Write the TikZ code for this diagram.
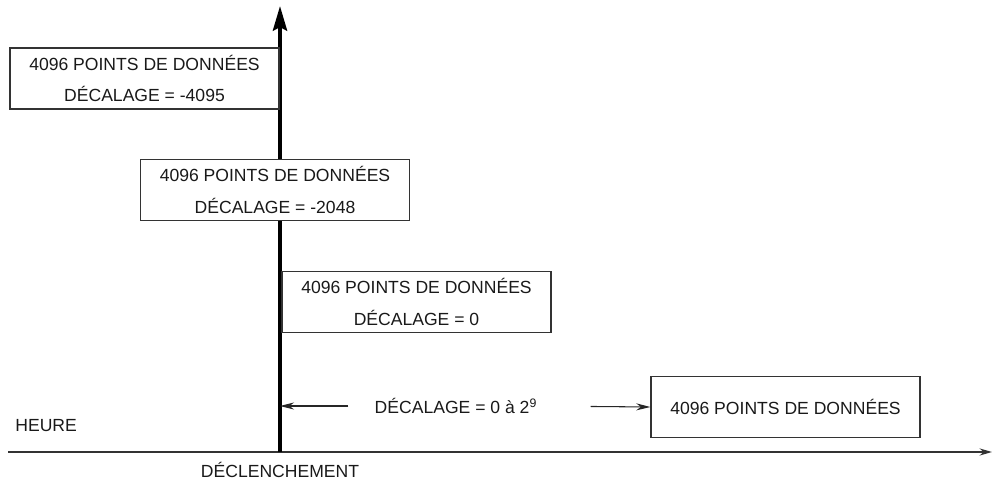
\documentclass[tikz,border=0pt]{standalone}
\usepackage{fontspec}
\setmainfont{Liberation Sans}
\usetikzlibrary{arrows.meta, positioning}

\begin{document}
\begin{tikzpicture}[
    x=0.02cm, y=-0.02cm,
    box/.style={rectangle, draw=black!80, line width=0.8pt,
    align=center, minimum width=5.38cm, minimum height=1.22cm,
    inner sep=0pt, text=black!90},
    txt/.style={text=black!90, inner sep=0pt},
    arrow/.style={-{Stealth[length=8pt, width=4pt]}, line width=0.6pt,
    draw=black!85} ]

    \useasboundingbox (0,0) rectangle (995,483);

    % Axes
    \coordinate (origin) at (280,452);
    \coordinate (top) at (280,6);
    \coordinate (left) at (8,452);
    \coordinate (right) at (992,452);
    \draw[line width=1.1pt, draw=black!80,
      -{Stealth[length=7pt, width=4pt]}] (left) -- (right);
    \draw[line width=2.3pt,
      -{Stealth[length=14pt, width=8pt, inset=2pt]}] (origin) -- (top);

    % Nodes for the data windows
    \node[box] (win1) at (144.5,78.5)
        {4096 POINTS DE DONNÉES\\[6pt]DÉCALAGE = -4095};
    \node[box, fill=white] (win2) at (275,190)
        {4096 POINTS DE DONNÉES\\[6pt]DÉCALAGE = -2048};
    \node[box] (win3) at (416.5,302)
        {4096 POINTS DE DONNÉES\\[6pt]DÉCALAGE = 0};
    \node[box] (win4) at (785.5,407) {4096 POINTS DE DONNÉES};

    % Delay label and arrows
    \node[txt] (delay) at (456,406) {DÉCALAGE = 0 à 2\textsuperscript{9}};
    \coordinate (hit) at (origin |- delay);
    \draw[arrow, shorten <=0.52cm] (delay.west) -- (hit);
    \draw[arrow, shorten <=1.06cm] (delay.east) -- (win4.west);

    % Axis labels
    \node[txt, anchor=west] (time) at (15,426) {HEURE};
    \node[txt] (trig) at (280,470) {DÉCLENCHEMENT};

  \end{tikzpicture}
\end{document}
